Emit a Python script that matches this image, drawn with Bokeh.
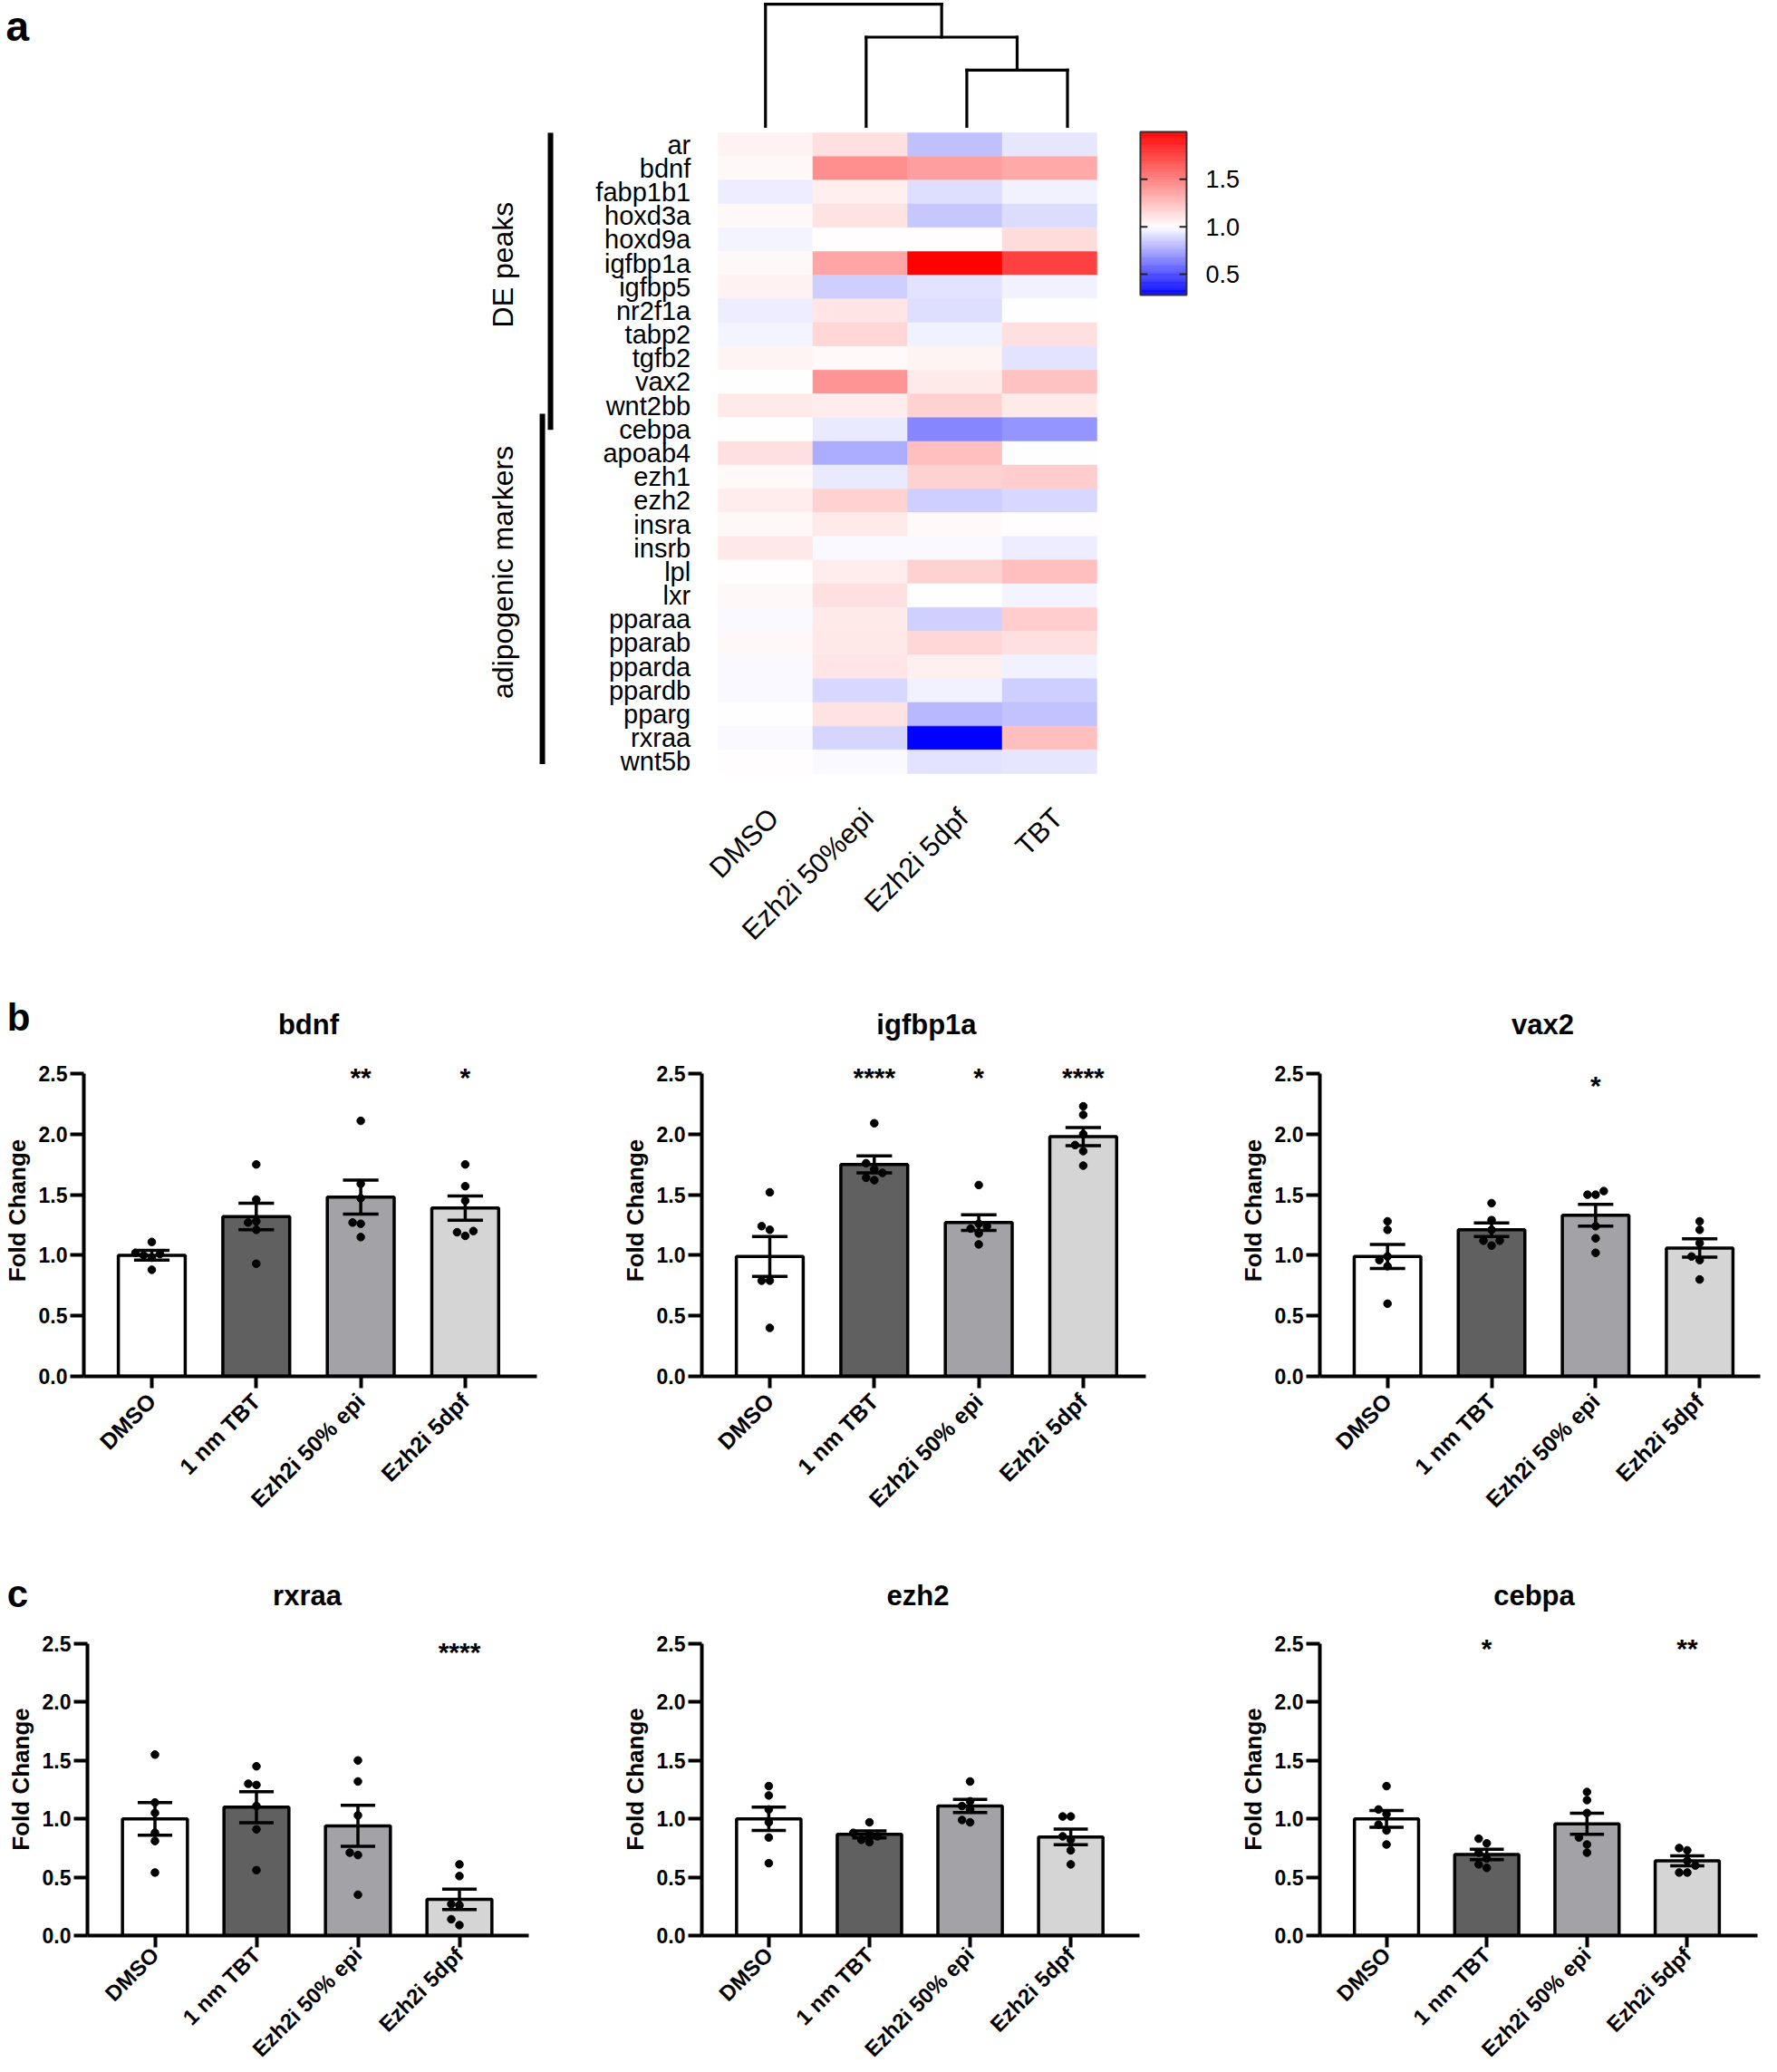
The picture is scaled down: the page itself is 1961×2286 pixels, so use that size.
import math
from bokeh.plotting import figure
from bokeh.models import (Range1d, ColumnDataSource, LinearColorMapper, FixedTicker,
                          PrintfTickFormatter)
from bokeh.transform import transform
from bokeh.layouts import column, row
from bokeh.embed import file_html
from bokeh.resources import INLINE
from bokeh.core.properties import value

FONT = "Liberation Sans"
PAGE_W = 1961

# ---------------- panel a : heatmap data ----------------
hm_genes = ["ar", "bdnf", "fabp1b1", "hoxd3a", "hoxd9a", "igfbp1a", "igfbp5", "nr2f1a", "tabp2",
            "tgfb2", "vax2", "wnt2bb", "cebpa", "apoab4", "ezh1", "ezh2", "insra", "insrb", "lpl",
            "lxr", "pparaa", "pparab", "pparda", "ppardb", "pparg", "rxraa", "wnt5b"]
hm_conditions = ["DMSO", "Ezh2i 50%epi", "Ezh2i 5dpf", "TBT"]
hm_dmso = [1.05, 1.03, 0.95, 1.03, 0.97, 1.03, 1.05, 0.95, 0.97, 1.04, 1.00, 1.08,
           1.00, 1.12, 1.02, 1.07, 1.03, 1.09, 1.01, 1.03, 0.98, 1.03, 0.98, 0.98, 1.00, 0.98, 1.01]
hm_50epi = [1.12, 1.44, 1.06, 1.11, 1.01, 1.35, 0.86, 1.10, 1.16, 1.02, 1.42, 1.07,
            0.94, 0.77, 0.94, 1.18, 1.08, 0.98, 1.07, 1.12, 1.08, 1.09, 1.10, 0.89, 1.11, 0.88, 0.98]
hm_5dpf = [0.82, 1.38, 0.91, 0.84, 1.01, 2.00, 0.92, 0.91, 0.96, 1.04, 1.08, 1.18,
           0.66, 1.25, 1.18, 0.86, 1.02, 0.98, 1.18, 1.00, 0.87, 1.16, 1.06, 0.96, 0.80, 0.28, 0.92]
hm_tbt = [0.93, 1.34, 0.96, 0.90, 1.14, 1.75, 0.96, 1.00, 1.12, 0.92, 1.24, 1.08,
          0.70, 1.00, 1.20, 0.89, 1.01, 0.95, 1.25, 0.97, 1.20, 1.12, 0.96, 0.86, 0.83, 1.25, 0.93]
hm_group_names = ["DE peaks", "adipogenic markers"]
hm_group_sizes = [12, 15]
cbar_low, cbar_mid, cbar_high = 0.28, 1.0, 2.0
cbar_ticks = [0.5, 1.0, 1.5]
# dendrogram: (left node, right node, merge height); leaves 0..3 in column order
dendro_merges = [(2, 3, 0.46), (1, 4, 0.73), (0, 5, 1.00)]

# ---------------- panels b / c : qPCR data ----------------
bar_groups = ["DMSO", "1 nm TBT", "Ezh2i 50% epi", "Ezh2i 5dpf"]

bdnf_mean = [1.00, 1.32, 1.48, 1.39]
bdnf_sem = [0.04, 0.11, 0.14, 0.10]
bdnf_pts = [[1.02, 1.11, 0.88, 0.98, 1.00, 1.01], [1.75, 1.46, 1.28, 1.21, 0.93, 1.27],
            [2.11, 1.59, 1.47, 1.27, 1.26, 1.15], [1.75, 1.57, 1.45, 1.20, 1.16, 1.19]]
bdnf_stars = ["", "", "**", "*"]

igfbp1a_mean = [0.99, 1.75, 1.27, 1.98]
igfbp1a_sem = [0.165, 0.07, 0.065, 0.075]
igfbp1a_pts = [[1.52, 1.24, 1.21, 0.79, 0.79, 0.40], [2.09, 1.76, 1.71, 1.68, 1.64, 1.62],
               [1.58, 1.26, 1.24, 1.18, 1.09, 1.22], [2.23, 2.16, 2.00, 1.91, 1.86, 1.74]]
igfbp1a_stars = ["", "****", "*", "****"]

vax2_mean = [0.99, 1.21, 1.33, 1.06]
vax2_sem = [0.10, 0.056, 0.09, 0.075]
vax2_pts = [[1.28, 1.21, 0.99, 0.96, 0.91, 0.60], [1.43, 1.29, 1.21, 1.12, 1.12, 1.08],
            [1.50, 1.53, 1.50, 1.24, 1.14, 1.02], [1.28, 1.21, 1.10, 0.99, 0.96, 0.80]]
vax2_stars = ["", "", "*", ""]

rxraa_mean = [1.00, 1.10, 0.94, 0.31]
rxraa_sem = [0.14, 0.133, 0.175, 0.087]
rxraa_pts = [[1.55, 1.14, 1.05, 0.88, 0.81, 0.54], [1.45, 1.30, 1.29, 1.11, 0.91, 0.56],
             [1.50, 1.32, 1.03, 0.71, 0.69, 0.35], [0.61, 0.51, 0.27, 0.26, 0.14, 0.09]]
rxraa_stars = ["", "", "", "****"]

ezh2_mean = [1.00, 0.867, 1.11, 0.845]
ezh2_sem = [0.10, 0.03, 0.056, 0.067]
ezh2_pts = [[1.28, 1.20, 1.08, 0.97, 0.84, 0.62], [0.97, 0.88, 0.87, 0.85, 0.82, 0.80],
            [1.32, 1.15, 1.11, 1.08, 0.99, 0.97], [1.02, 1.02, 0.85, 0.82, 0.73, 0.61]]
ezh2_stars = ["", "", "", ""]

cebpa_mean = [1.00, 0.695, 0.957, 0.64]
cebpa_sem = [0.072, 0.045, 0.09, 0.043]
cebpa_pts = [[1.28, 1.08, 1.04, 0.95, 0.90, 0.78], [0.83, 0.79, 0.71, 0.66, 0.61, 0.58],
             [1.23, 1.16, 1.05, 0.84, 0.78, 0.71], [0.73, 0.75, 0.64, 0.60, 0.54, 0.54]]
cebpa_stars = ["", "*", "", "**"]

y_ticks = [0.0, 0.5, 1.0, 1.5, 2.0, 2.5]
bar_fill = ["#ffffff", "#606060", "#a3a3a7", "#d5d5d5"]


def diverging_palette(low, mid, high, n=256):
    pal = []
    for k in range(n):
        v = low + (k + 0.5) / n * (high - low)
        if v < mid:
            t = (mid - v) / (mid - low)
            c = int(round(255 * (1 - t)))
            pal.append("#%02x%02x%02x" % (c, c, 255))
        else:
            t = (v - mid) / (high - mid)
            c = int(round(255 * (1 - t)))
            pal.append("#%02x%02x%02x" % (255, c, c))
    return pal


mapper = LinearColorMapper(palette=diverging_palette(cbar_low, cbar_mid, cbar_high),
                           low=cbar_low, high=cbar_high)


def make_heatmap(H):
    W = PAGE_W
    col_px, row_px = 104.5, 26.185
    xs = -792 / col_px
    xe = xs + W / col_px
    yt = -146 / row_px
    yb = yt + H / row_px
    p = figure(width=W, height=H, x_range=Range1d(xs, xe), y_range=Range1d(yb, yt),
               x_axis_type=None, y_axis_type=None, min_border=0, toolbar_location=None,
               output_backend="svg", outline_line_color=None)

    cols = [hm_dmso, hm_50epi, hm_5dpf, hm_tbt]
    cx, cy, cv = [], [], []
    for i, vals in enumerate(cols):
        for j, v in enumerate(vals):
            cx.append(i + 0.5)
            cy.append(j + 0.5)
            cv.append(v)
    src = ColumnDataSource(dict(x=cx, y=cy, v=cv))
    p.rect('x', 'y', width=1, height=1, source=src, fill_color=transform('v', mapper),
           line_color=transform('v', mapper), line_width=0.5)

    n = len(hm_genes)
    p.text(x=[-0.29] * n, y=[j + 0.5 for j in range(n)], text=hm_genes,
           text_align="right", text_baseline="middle", text_font=value(FONT),
           text_font_size="29px", text_color="black")

    m = len(hm_conditions)
    p.text(x=[i + 0.47 for i in range(m)], y=[28.2] * m, text=hm_conditions, angle=math.pi / 4,
           text_align="right", text_baseline="top", text_font=value(FONT),
           text_font_size="31px", text_color="black")

    starts = [0, hm_group_sizes[0]]
    ends = [hm_group_sizes[0], hm_group_sizes[0] + hm_group_sizes[1]]
    bar_x = [-1.77, -1.856]
    y0s = [starts[0], starts[1] - 0.16]
    y1s = [ends[0] + 0.52, ends[1] - 0.4]
    p.segment(x0=bar_x, y0=y0s, x1=bar_x, y1=y1s, line_width=6, line_color="black")
    p.text(x=[-2.27, -2.27], y=[(a + b) / 2 - 0.7 for a, b in zip(y0s, y1s)], text=hm_group_names,
           angle=math.pi / 2, text_align="center", text_baseline="middle",
           text_font=value(FONT), text_font_size="32px", text_color="black")

    leaf_base, hscale = -0.27, 5.15
    def yh(h):
        return leaf_base - h * hscale
    nx = {i: 0.5 + i * 1.063 for i in range(4)}
    nh = {i: 0.0 for i in range(4)}
    sx0, sy0, sx1, sy1 = [], [], [], []
    nid = 4
    for a, b, h in dendro_merges:
        for c in (a, b):
            sx0.append(nx[c]); sy0.append(yh(nh[c])); sx1.append(nx[c]); sy1.append(yh(h))
        sx0.append(nx[a]); sy0.append(yh(h)); sx1.append(nx[b]); sy1.append(yh(h))
        nx[nid] = (nx[a] + nx[b]) / 2
        nh[nid] = h
        nid += 1
    p.segment(x0=sx0, y0=sy0, x1=sx1, y1=sy1, line_width=3.2, line_color="black",
              line_cap="square")

    cb_l, cb_r = 4.459, 4.947
    cb_top, cb_bot = -0.04, 6.836
    def ymap(v):
        return cb_bot + (v - cbar_low) / (cbar_high - cbar_low) * (cb_top - cb_bot)
    N = 200
    vs = [cbar_low + (k + 0.5) / N * (cbar_high - cbar_low) for k in range(N)]
    bots = [ymap(cbar_low + k / N * (cbar_high - cbar_low)) for k in range(N)]
    tops = [ymap(cbar_low + (k + 1) / N * (cbar_high - cbar_low)) for k in range(N)]
    csrc = ColumnDataSource(dict(v=vs, b=bots, t=tops))
    p.quad(left=cb_l, right=cb_r, bottom='b', top='t', source=csrc,
           fill_color=transform('v', mapper), line_color=transform('v', mapper), line_width=0.5)
    p.quad(left=[cb_l], right=[cb_r], bottom=[cb_bot], top=[cb_top], fill_color=None,
           line_color="#333333", line_width=2)
    tk = 0.075
    ty = [ymap(t) for t in cbar_ticks]
    p.segment(x0=[cb_l] * 3 + [cb_r - tk] * 3, y0=ty + ty, x1=[cb_l + tk] * 3 + [cb_r] * 3,
              y1=ty + ty, line_color="#222222", line_width=2)
    p.text(x=[5.148] * 3, y=ty, text=["%.1f" % t for t in cbar_ticks], text_align="left",
           text_baseline="middle", text_font=value(FONT), text_font_size="27px",
           text_color="black")

    p.text(x=[xs + 6 / col_px], y=[yt + 2 / row_px], text=["a"], text_align="left",
           text_baseline="top", text_font=value(FONT), text_font_style="bold",
           text_font_size="46px", text_color="black")
    return p


def beeswarm(vals, ppu_y, ppu_x, diam=9.0):
    order = sorted(range(len(vals)), key=lambda k: vals[k])
    placed = []
    offs = [0.0] * len(vals)
    cands = [0, -1, 1, -2, 2, -3, 3, -4, 4]
    for k in order:
        ypx = vals[k] * ppu_y
        xpx = 0.0
        for c in cands:
            xpx = c * diam
            if all((xpx - a) ** 2 + (ypx - b) ** 2 >= (diam * 0.98) ** 2 for a, b in placed):
                break
        placed.append((xpx, ypx))
        offs[k] = xpx / ppu_x
    return offs


def bar_panel(means, sems, pts, stars, star_y, fig_w, b_left, frame_w, height, b_bottom,
              spacing, first_off, ppu, lab_standoff, lab_size):
    b_right = fig_w - b_left - frame_w
    frame_h = height - b_bottom
    xs = 1 - first_off / spacing
    xe = xs + frame_w / spacing
    p = figure(width=fig_w, height=height, x_range=Range1d(xs, xe),
               y_range=Range1d(0, frame_h / ppu), min_border_left=b_left,
               min_border_right=b_right, min_border_top=0, min_border_bottom=b_bottom,
               toolbar_location=None, output_backend="svg", outline_line_color=None)
    p.grid.visible = False
    xpos = [i + 1 for i in range(len(means))]
    src = ColumnDataSource(dict(x=xpos, top=means, color=bar_fill))
    p.vbar(x='x', top='top', bottom=0, width=0.64, source=src, fill_color='color',
           line_color="black", line_width=3.5)
    px, py = [], []
    for i, vals in enumerate(pts):
        offs = beeswarm(vals, ppu, spacing)
        for v, o in zip(vals, offs):
            px.append(xpos[i] + o)
            py.append(v)
    p.scatter(px, py, size=8.5, color="black")
    lo = [m - s for m, s in zip(means, sems)]
    hi = [m + s for m, s in zip(means, sems)]
    p.segment(x0=xpos, y0=lo, x1=xpos, y1=hi, line_width=3.5, line_color="black")
    cw = 0.17
    p.segment(x0=[x - cw for x in xpos] * 2, y0=lo + hi, x1=[x + cw for x in xpos] * 2,
              y1=lo + hi, line_width=3.5, line_color="black")
    p.text(x=xpos, y=[star_y] * len(xpos), text=stars, text_align="center",
           text_baseline="middle", y_offset=4, text_font=value(FONT), text_font_style="bold",
           text_font_size="30px", text_color="black")
    p.yaxis.ticker = FixedTicker(ticks=y_ticks)
    p.yaxis.formatter = PrintfTickFormatter(format="%.1f")
    p.yaxis.bounds = (0, 2.5)
    p.yaxis.axis_label = "Fold Change"
    p.yaxis.axis_label_text_font = FONT
    p.yaxis.axis_label_text_font_style = "bold"
    p.yaxis.axis_label_text_font_size = "26px"
    p.yaxis.axis_label_text_color = "black"
    p.yaxis.axis_label_standoff = 6
    p.xaxis.ticker = FixedTicker(ticks=xpos)
    p.xaxis.major_label_overrides = {x: g for x, g in zip(xpos, bar_groups)}
    p.xaxis.major_label_orientation = math.pi / 4
    p.yaxis.major_tick_out = 15
    p.xaxis.major_tick_out = 13
    for ax in (p.xaxis, p.yaxis):
        ax.axis_line_width = 4
        ax.axis_line_color = "black"
        ax.major_tick_line_width = 4
        ax.major_tick_line_color = "black"
        ax.major_tick_in = 0
        ax.minor_tick_line_color = None
        ax.major_label_text_font = FONT
        ax.major_label_text_font_style = "bold"
        ax.major_label_text_color = "black"
    p.yaxis.major_label_text_font_size = "23px"
    p.xaxis.major_label_text_font_size = lab_size
    p.yaxis.major_label_standoff = 3
    p.xaxis.major_label_standoff = lab_standoff
    return p, 1.5 * spacing + first_off


def strip(height, letter, letter_xy, titles, title_xs, title_y):
    p = figure(width=PAGE_W, height=height, x_range=Range1d(0, PAGE_W),
               y_range=Range1d(height, 0), x_axis_type=None, y_axis_type=None, min_border=0,
               toolbar_location=None, output_backend="svg", outline_line_color=None)
    p.text(x=[letter_xy[0]], y=[letter_xy[1]], text=[letter], text_align="center",
           text_baseline="middle", text_font=value(FONT), text_font_style="bold",
           text_font_size="42px", text_color="black")
    p.text(x=title_xs, y=[title_y] * len(titles), text=titles, text_align="center",
           text_baseline="middle", text_font=value(FONT), text_font_style="bold",
           text_font_size="31px", text_color="black")
    return p


H_HEAT, H_STRIP_B, H_B, H_STRIP_C, H_C = 1092, 60, 566, 72, 496

heat = make_heatmap(H_HEAT)

fig_w = [682, 682, 597]
fig_x = [0, 682, 1364]

B = dict(height=H_B, b_bottom=200, spacing=115.3, first_off=75, ppu=133.6, lab_standoff=10,
         lab_size="25px")
b_left = [92, 92, 90]
b1, t1 = bar_panel(bdnf_mean, bdnf_sem, bdnf_pts, bdnf_stars, 2.5, fig_w[0], b_left[0], 500, **B)
b2, t2 = bar_panel(igfbp1a_mean, igfbp1a_sem, igfbp1a_pts, igfbp1a_stars, 2.5, fig_w[1],
                   b_left[1], 490, **B)
b3, t3 = bar_panel(vax2_mean, vax2_sem, vax2_pts, vax2_stars, 2.43, fig_w[2], b_left[2], 488, **B)
strip_b = strip(H_STRIP_B, "b", (20, 30), ["bdnf", "igfbp1a", "vax2"],
                [fig_x[k] + b_left[k] + t for k, t in enumerate([t1, t2, t3])], 38)

C = dict(height=H_C, b_bottom=150, spacing=112.0, first_off=74.5, ppu=129.2, lab_standoff=4,
         lab_size="24px")
c_left = [96, 88, 86]
c1, u1 = bar_panel(rxraa_mean, rxraa_sem, rxraa_pts, rxraa_stars, 2.46, fig_w[0], c_left[0], 487, **C)
c2, u2 = bar_panel(ezh2_mean, ezh2_sem, ezh2_pts, ezh2_stars, 2.49, fig_w[1], c_left[1], 487, **C)
c3, u3 = bar_panel(cebpa_mean, cebpa_sem, cebpa_pts, cebpa_stars, 2.49, fig_w[2], c_left[2], 489, **C)
strip_c = strip(H_STRIP_C, "c", (19, 40), ["rxraa", "ezh2", "cebpa"],
                [fig_x[k] + c_left[k] + t for k, t in enumerate([u1, u2, u3])], 42)

layout = column(heat, strip_b, row(b1, b2, b3), strip_c, row(c1, c2, c3))
open("out.html", "w").write(file_html(layout, INLINE, "figure"))
